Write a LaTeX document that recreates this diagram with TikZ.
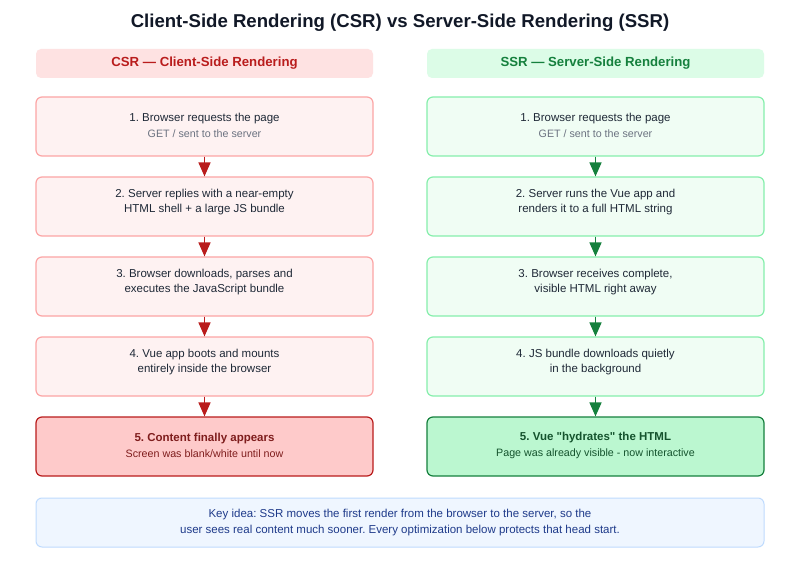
\documentclass[tikz,border=0pt]{standalone}
\usepackage{fontspec}
\setmainfont{Liberation Sans}
\newfontfamily\nqfont{Liberation Sans}
\usetikzlibrary{arrows.meta}
\definecolor{csrhead}{HTML}{FEE2E2}
\definecolor{csrtxt}{HTML}{B91C1C}
\definecolor{csrfill}{HTML}{FEF2F2}
\definecolor{csrline}{HTML}{FCA5A5}
\definecolor{csrfin}{HTML}{FECACA}
\definecolor{csrfinline}{HTML}{B91C1C}
\definecolor{csrfintxt}{HTML}{7F1D1D}
\definecolor{ssrhead}{HTML}{DCFCE7}
\definecolor{ssrtxt}{HTML}{15803D}
\definecolor{ssrfill}{HTML}{F0FDF4}
\definecolor{ssrline}{HTML}{86EFAC}
\definecolor{ssrfin}{HTML}{BBF7D0}
\definecolor{ssrfinline}{HTML}{15803D}
\definecolor{ssrfintxt}{HTML}{14532D}
\definecolor{maintxt}{HTML}{1F2937}
\definecolor{subtxt}{HTML}{6B7280}
\definecolor{keyfill}{HTML}{EFF6FF}
\definecolor{keyline}{HTML}{BFDBFE}
\definecolor{keytxt}{HTML}{1E3A8A}
\definecolor{titletxt}{HTML}{111827}
\newcommand\mysub[1]{{\color{subtxt}\fontsize{10.7}{14}\selectfont #1}}
\newcommand\myfinsub[1]{{\fontsize{10.7}{14}\selectfont #1}}
\newcommand\sq{{\nqfont\bfseries"}}
\frenchspacing
\begin{document}
\begin{tikzpicture}[x=1pt,y=-1pt,
  box/.style={rounded corners=6pt, line width=1.2pt, minimum width=337pt, minimum height=59pt, inner sep=0pt},
  txt/.style={align=center, inner sep=0pt, text=maintxt, font=\fontsize{11.5}{15}\selectfont},
  headbox/.style={rounded corners=5pt, draw=none, minimum width=337pt, minimum height=29pt, inner sep=0pt, font=\fontsize{13.2}{16}\selectfont\bfseries},
  csrbox/.style={box, fill=csrfill, draw=csrline},
  ssrbox/.style={box, fill=ssrfill, draw=ssrline},
  arr/.style={line width=1.6pt, -{Triangle[width=12pt,length=14pt]}},
]
\useasboundingbox (0,0) rectangle (800,569);
\fill[white] (0,0) rectangle (800,569);
\node[font=\fontsize{18.6}{22}\selectfont\bfseries, text=titletxt] (title) at (400,23) {Client-Side Rendering (CSR) vs Server-Side Rendering (SSR)};
% headers
\node[headbox, fill=csrhead, text=csrtxt] (ch) at (204.5,63.5) {CSR — Client-Side Rendering};
\node[headbox, fill=ssrhead, text=ssrtxt] (sh) at (595.5,63.5) {SSR — Server-Side Rendering};
% boxes
\node[csrbox] (c1) at (204.5,126.5) {};
\node[csrbox] (c2) at (204.5,206.5) {};
\node[csrbox] (c3) at (204.5,286.5) {};
\node[csrbox] (c4) at (204.5,366.5) {};
\node[box, fill=csrfin, draw=csrfinline] (c5) at (204.5,446.5) {};
\node[ssrbox] (s1) at (595.5,126.5) {};
\node[ssrbox] (s2) at (595.5,206.5) {};
\node[ssrbox] (s3) at (595.5,286.5) {};
\node[ssrbox] (s4) at (595.5,366.5) {};
\node[box, fill=ssrfin, draw=ssrfinline] (s5) at (595.5,446.5) {};
% texts
\node[txt] (c1t) at ([yshift=1.5pt]c1.center) {1. Browser requests the page\\[1pt]\mysub{GET / sent to the server}};
\node[txt] (c2t) at ([yshift=4.5pt]c2.center) {2. Server replies with a near-empty\\HTML shell + a large JS bundle};
\node[txt] (c3t) at ([yshift=4.5pt]c3.center) {3. Browser downloads, parses and\\executes the JavaScript bundle};
\node[txt] (c4t) at ([yshift=4.5pt]c4.center) {4. Vue app boots and mounts\\entirely inside the browser};
\node[txt, text=csrfintxt] (c5t) at ([yshift=1.5pt]c5.center) {\textbf{5. Content finally appears}\\[1pt]\myfinsub{Screen was blank/white until now}};
\node[txt] (s1t) at ([yshift=1.5pt]s1.center) {1. Browser requests the page\\[1pt]\mysub{GET / sent to the server}};
\node[txt] (s2t) at ([yshift=4.5pt]s2.center) {2. Server runs the Vue app and\\renders it to a full HTML string};
\node[txt] (s3t) at ([yshift=4.5pt]s3.center) {3. Browser receives complete,\\visible HTML right away};
\node[txt] (s4t) at ([yshift=4.5pt]s4.center) {4. JS bundle downloads quietly\\in the background};
\node[txt, text=ssrfintxt] (s5t) at ([yshift=1.5pt]s5.center) {\textbf{5. Vue \sq hydrates\sq{} the HTML}\\[1pt]\myfinsub{Page was already visible - now interactive}};
% arrows
\foreach \a/\b in {c1/c2,c2/c3,c3/c4,c4/c5}{\draw[arr, draw=csrtxt, fill=csrtxt] (\a.south) -- (\b.north);}
\foreach \a/\b in {s1/s2,s2/s3,s3/s4,s4/s5}{\draw[arr, draw=ssrtxt, fill=ssrtxt] (\a.south) -- (\b.north);}
% key idea
\node[rounded corners=6pt, fill=keyfill, draw=keyline, line width=1pt, minimum width=728pt, minimum height=49pt, align=center, text=keytxt, font=\fontsize{11.5}{16.5}\selectfont] (key) at (400,522.5) {Key idea: SSR moves the first render from the browser to the server, so the\\user sees real content much sooner. Every optimization below protects that head start.};
\end{tikzpicture}
\end{document}
